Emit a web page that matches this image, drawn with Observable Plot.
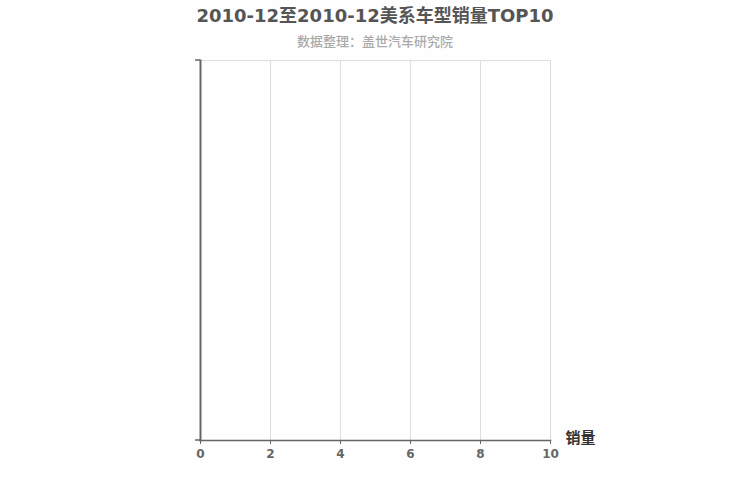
<!DOCTYPE html>
<html>
<head>
<meta charset="utf-8">
<script src="https://cdn.jsdelivr.net/npm/d3@7"></script>
<script src="https://cdn.jsdelivr.net/npm/@observablehq/plot@0.6"></script>
<style>
  html, body { margin: 0; padding: 0; background: #fefefe; }
  #wrap { position: relative; width: 750px; height: 500px; font-family: "DejaVu Sans", "Noto Sans CJK SC", sans-serif; }
  #title { position: absolute; left: 0; width: 750px; top: 5px; text-align: center; font-size: 18px; font-weight: bold; color: #555; line-height: 22px; }
  #subtitle { position: absolute; left: 0; width: 750px; top: 31px; text-align: center; font-size: 13px; font-weight: 500; color: #aaa; line-height: 20px; font-family: "Noto Sans CJK SC", "DejaVu Sans", sans-serif; }
  #chart { position: absolute; left: 0; top: 52px; }
</style>
</head>
<body>
<div id="wrap">
  <div id="title">2010-12至2010-12美系车型销量TOP10</div>
  <div id="subtitle">数据整理：盖世汽车研究院</div>
  <div id="chart"></div>
</div>
<script>
const models = [];
const sales = [];
const xTicks = [0, 2, 4, 6, 8, 10];
const xDomain = [0, 10];
const xLabel = "销量";

const rows = models.map((m, i) => ({model: m, value: sales[i]}));

const yEndTicks = (index, scales, values, dims) => {
  const g = d3.create("svg:g");
  const x0 = dims.marginLeft;
  const yTop = dims.marginTop;
  const yBot = dims.height - dims.marginBottom;
  g.append("path")
    .attr("d", `M${x0 - 5},${yTop}H${x0}M${x0 - 5},${yBot}H${x0}`)
    .attr("stroke", "#666")
    .attr("stroke-width", 1.5)
    .attr("fill", "none");
  return g.node();
};

const chart = Plot.plot({
  width: 750,
  height: 448,
  marginTop: 8,
  marginBottom: 60,
  marginLeft: 200,
  marginRight: 200,
  style: {background: "transparent", fontFamily: "DejaVu Sans, Noto Sans CJK SC, sans-serif", overflow: "visible"},
  x: {domain: xDomain, ticks: xTicks, axis: null, label: null},
  y: {type: "band", domain: models, axis: null, label: null},
  marks: [
    Plot.gridX(xTicks, {stroke: "#ddd", strokeOpacity: 1}),
    Plot.frame({anchor: "top", stroke: "#ddd", strokeOpacity: 1}),
    Plot.barX(rows, {x: "value", y: "model", fill: "#5b9bd5"}),
    Plot.frame({anchor: "bottom", stroke: "#666", strokeWidth: 1.5, strokeOpacity: 1}),
    Plot.frame({anchor: "left", stroke: "#666", strokeWidth: 2, strokeOpacity: 1}),
    Plot.axisX(xTicks, {tickSize: 4, tickPadding: 5, label: null, stroke: "#666", fill: "#666", fontWeight: "bold", fontSize: 12, tickFormat: d => String(d)}),
    yEndTicks,
    Plot.text([xLabel], {frameAnchor: "bottom-right", dx: 15, dy: 2, textAnchor: "start", fontWeight: "bold", fontSize: 15, fill: "#333"})
  ]
});
document.getElementById("chart").appendChild(chart);
</script>
</body>
</html>
